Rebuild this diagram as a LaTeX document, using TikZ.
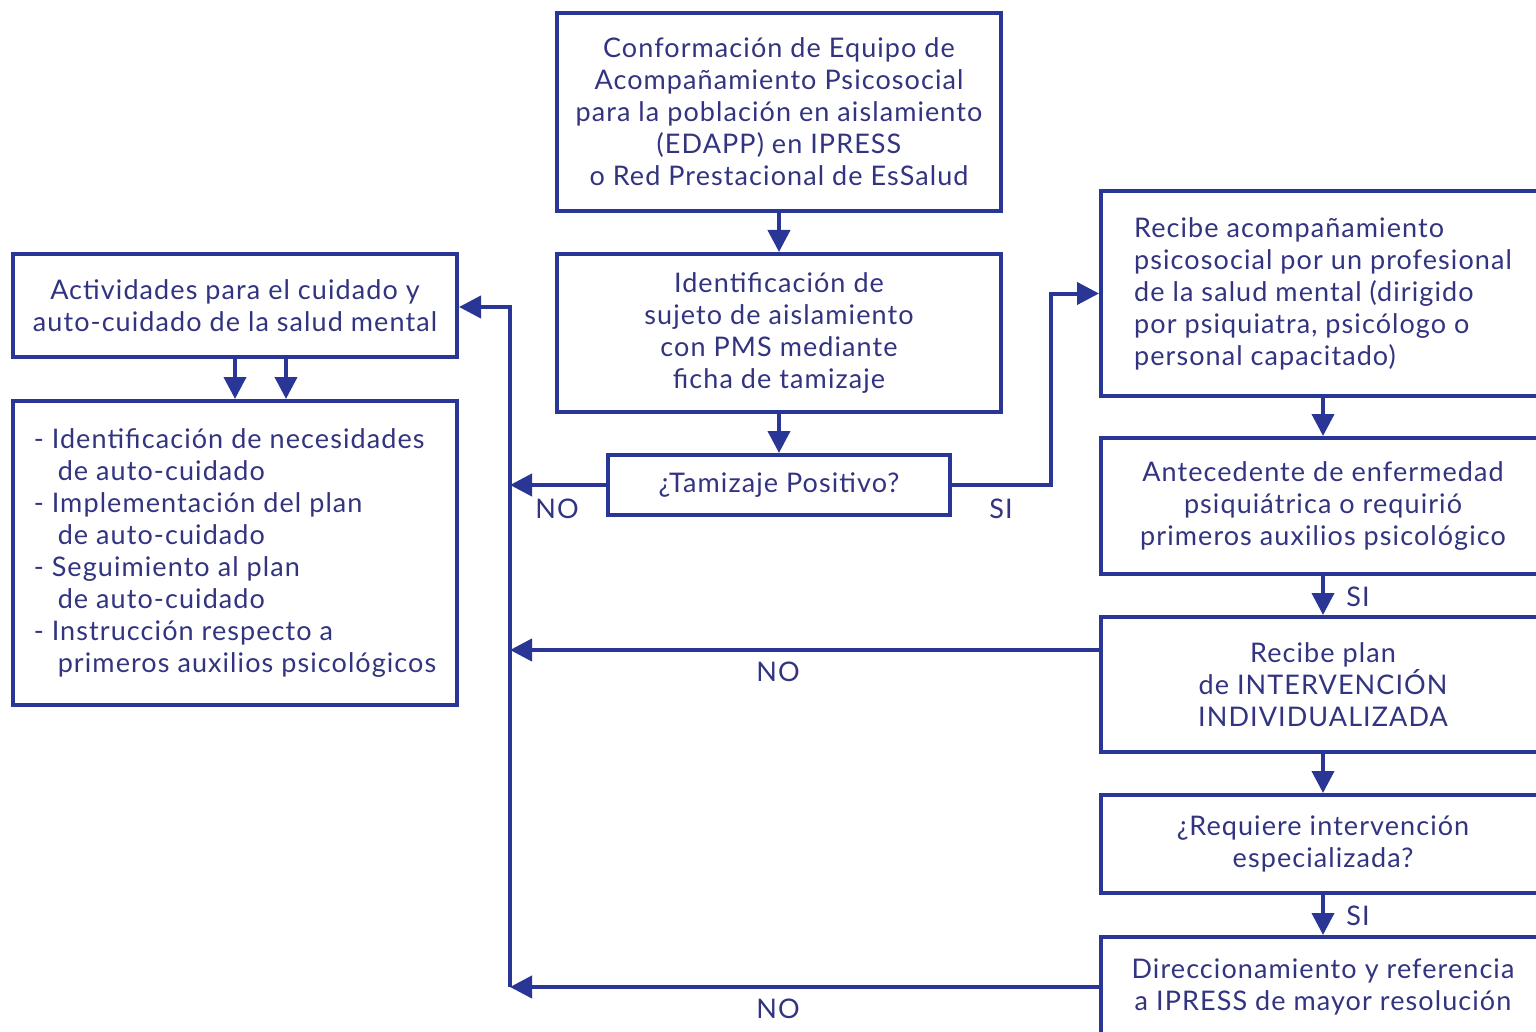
\documentclass[tikz,border=0pt]{standalone}
\usepackage{fontspec}
\setmainfont{Lato}[LetterSpace=4]
\usepackage{tikz}
\usetikzlibrary{arrows.meta}
\definecolor{azul}{RGB}{42,54,150}
\definecolor{tinta}{RGB}{50,52,128}

\begin{document}
\begin{tikzpicture}[x=0.5pt,y=-0.5pt]
\tikzstyle{caja}=[draw=azul,line width=2pt,minimum width=222pt,inner sep=0pt,align=center,text=tinta,font=\fontsize{13.5}{16}\selectfont]
\tikzstyle{etiq}=[text=tinta,font=\fontsize{13.5}{16}\selectfont]
\tikzstyle{flecha}=[draw=azul,line width=2pt,-{Triangle[length=11pt,width=11pt]}]
    \fill[white] (0,0) rectangle (1536,1032);
    \path[use as bounding box,clip] (0,0) rectangle (1536,1032);
    % centro
    \node[caja,minimum height=99pt](conf) at (779,112){Conformación de Equipo de\\Acompañamiento Psicosocial\\para la población en aislamiento\\(EDAPP) en IPRESS\\o Red Prestacional de EsSalud};
    \node[caja,minimum height=79pt](ident) at (779,333){Identificación de\\sujeto de aislamiento\\con PMS mediante\\ficha de tamizaje};
    \node[caja,minimum width=171pt,minimum height=30pt](tam) at (779,485){¿Tamizaje Positivo?};
    % izquierda
    \node[caja,minimum height=51.5pt](act) at (235,305.5){Actividades para el cuidado y\\auto-cuidado de la salud mental};
    \node[caja,minimum height=152pt,align=left](lista) at (235,553){%
      - Identificación de necesidades\\\hspace*{12pt}de auto-cuidado\\
      - Implementación del plan\\\hspace*{12pt}de auto-cuidado\\
      - Seguimiento al plan\\\hspace*{12pt}de auto-cuidado\\
      - Instrucción respecto a\\\hspace*{12pt}primeros auxilios psicológicos};
    % derecha
    \node[caja,minimum height=102.5pt,align=left](acomp) at (1323,293.5){Recibe acompañamiento\\psicosocial por un profesional\\de la salud mental (dirigido\\por psiquiatra, psicólogo o\\personal capacitado)};
    \node[caja,minimum height=68pt](ante) at (1323,506){Antecedente de enfermedad\\psiquiátrica o requirió\\primeros auxilios psicológico};
    \node[caja,minimum height=67.5pt](plan) at (1323,684.5){Recibe plan\\de INTERVENCIÓN\\INDIVIDUALIZADA};
    \node[caja,minimum height=49pt](req) at (1323,844){¿Requiere intervención\\especializada?};
    \node[caja,minimum height=50pt](dir) at (1323,987){Direccionamiento y referencia\\a IPRESS de mayor resolución};
    % etiquetas
    \node[etiq](no1) at (557,509){NO};
    \node[etiq](si1) at (1001,509){SI};
    \node[etiq](si2) at (1358,597){SI};
    \node[etiq](no2) at (778,672){NO};
    \node[etiq](si3) at (1358,916){SI};
    \node[etiq](no3) at (778,1009){NO};
    \coordinate(b1) at (510,485);
    \coordinate(b3) at (510,650);
    \coordinate(b5) at (510,987);
    \coordinate(bt) at (510,307);
    \coordinate(j) at (1051,485);
    \draw[flecha](conf)--(ident);
    \draw[flecha](ident)--(tam);
    \draw[flecha](tam.west)--(b1);
    \draw[flecha](tam.east)--(j)|-(acomp.west);
    \draw[flecha](acomp)--(ante);
    \draw[flecha](ante)--(plan);
    \draw[flecha](plan)--(req);
    \draw[flecha](req)--(dir);
    \draw[flecha](plan.west|-b3)--(b3);
    \draw[flecha](dir.west)--(b5);
    \draw[flecha](b5)--(bt)--(bt-|act.east);
    \draw[flecha](act.south)--(lista.north);
    \draw[flecha]([xshift=25.5pt]act.south)--([xshift=25.5pt]lista.north);
\end{tikzpicture}
\end{document}
